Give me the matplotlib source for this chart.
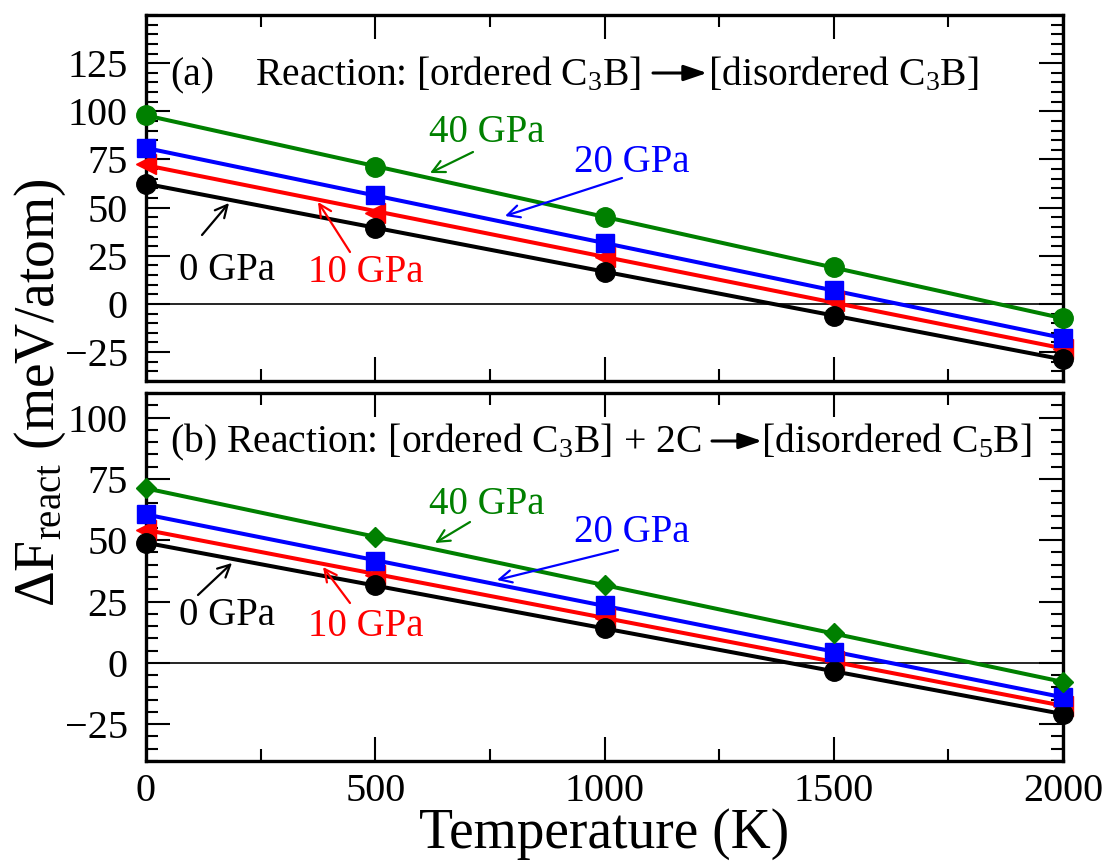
import numpy as np
import matplotlib
matplotlib.use("Agg")
import matplotlib.pyplot as plt
from matplotlib.ticker import MultipleLocator
from matplotlib.patches import FancyArrowPatch

plt.rcParams['font.family'] = ['Liberation Serif', 'DejaVu Serif']
plt.rcParams['mathtext.fontset'] = 'custom'
plt.rcParams['mathtext.rm'] = 'Liberation Serif'
plt.rcParams['mathtext.it'] = 'Liberation Serif:italic'

# ---- data ----
temps = [0, 500, 1000, 1500, 2000]
pressures = ['0 GPa', '10 GPa', '20 GPa', '40 GPa']

a_0gpa = [62.4, 39.6, 16.7, -6.0, -28.8]
a_10gpa = [72.4, 47.4, 24.5, 1.5, -23.5]
a_20gpa = [81.0, 56.4, 31.4, 7.0, -17.6]
a_40gpa = [98.3, 71.0, 45.2, 19.0, -7.4]

b_0gpa = [48.8, 31.6, 14.2, -3.4, -21.0]
b_10gpa = [54.3, 36.0, 18.3, 0.8, -17.7]
b_20gpa = [60.6, 41.6, 23.5, 4.3, -13.9]
b_40gpa = [71.1, 51.5, 31.6, 12.0, -7.8]

colors = {'0 GPa': 'black', '10 GPa': '#ff0000', '20 GPa': '#0000ff', '40 GPa': '#008000'}

fig = plt.figure(figsize=(11.1, 8.63), dpi=100)
ax1 = fig.add_axes([0.1315, 0.5585, 0.8262, 0.4241])
ax2 = fig.add_axes([0.1315, 0.1182, 0.8262, 0.4264])

def draw(ax, series, markers, sizes):
    t = np.array(temps, dtype=float)
    tl = np.array([0.0, 2000.0])
    # fit lines
    for name in ['10 GPa', '0 GPa', '20 GPa', '40 GPa']:
        y = np.array(series[name])
        p = np.polyfit(t, y, 1)
        ax.plot(tl, np.polyval(p, tl), color=colors[name], lw=2.9, zorder=3,
                solid_capstyle='butt', clip_on=False)
    zo = {'10 GPa': 4, '0 GPa': 5, '20 GPa': 6, '40 GPa': 7}
    for name in ['10 GPa', '0 GPa', '20 GPa', '40 GPa']:
        ax.plot(t, series[name], ls='none', marker=markers[name], ms=sizes[name],
                color=colors[name], mec=colors[name], zorder=zo[name], clip_on=False)
    ax.axhline(0, color='black', lw=1.2, zorder=2)

draw(ax1, {'0 GPa': a_0gpa, '10 GPa': a_10gpa, '20 GPa': a_20gpa, '40 GPa': a_40gpa},
     {'0 GPa': 'o', '10 GPa': '<', '20 GPa': 's', '40 GPa': 'o'},
     {'0 GPa': 14, '10 GPa': 14, '20 GPa': 12.5, '40 GPa': 14})
draw(ax2, {'0 GPa': b_0gpa, '10 GPa': b_10gpa, '20 GPa': b_20gpa, '40 GPa': b_40gpa},
     {'0 GPa': 'o', '10 GPa': '<', '20 GPa': 's', '40 GPa': 'D'},
     {'0 GPa': 14, '10 GPa': 14, '20 GPa': 12.5, '40 GPa': 10.5})

for ax, ylim, yt in [(ax1, (-40, 150), [-25, 0, 25, 50, 75, 100, 125]),
                     (ax2, (-40, 110), [-25, 0, 25, 50, 75, 100])]:
    ax.set_xlim(0, 2000)
    ax.set_ylim(*ylim)
    ax.set_yticks(yt)
    ax.set_xticks([0, 500, 1000, 1500, 2000])
    ax.xaxis.set_minor_locator(MultipleLocator(250))
    ax.yaxis.set_minor_locator(MultipleLocator(5))
    ax.tick_params(which='both', direction='in', top=True, right=True, width=1.5)
    ax.tick_params(which='major', length=17)
    ax.tick_params(which='minor', length=8.5)
    ax.tick_params(axis='y', which='major', labelsize=29, pad=13)
    ax.tick_params(axis='x', which='major', labelsize=29, pad=9)
    for s in ax.spines.values():
        s.set_linewidth(2.4)

ax1.tick_params(axis='x', labelbottom=False)
ax2.set_xlabel('Temperature (K)', fontsize=40, labelpad=-2)

fig.text(0.036, 0.545, 'ΔF$_{\\mathrm{react}}$ (meV/atom)', rotation=90, fontsize=40,
         ha='center', va='center')

def px(x, y):
    return (x / 1110.0, 1 - y / 863.0)

fs = 28.5
def reaction_arrow(x0, x1, y):
    fig.add_artist(FancyArrowPatch(px(x0, y), px(x1, y), transform=fig.transFigure,
                                   arrowstyle='-|>,head_length=0.5,head_width=0.17',
                                   mutation_scale=28, lw=2.2, color='black',
                                   shrinkA=0, shrinkB=0))

# panel (a) title
fig.text(*px(170, 85), '(a)', fontsize=fs, ha='left', va='baseline')
fig.text(*px(255, 85), 'Reaction: [ordered C$_3$B]', fontsize=fs, ha='left', va='baseline')
reaction_arrow(653, 707, 73)
fig.text(*px(979, 85), '[disordered C$_3$B]', fontsize=fs, ha='right', va='baseline')
# panel (b) title
fig.text(*px(170, 452), '(b) Reaction: [ordered C$_3$B] + 2C', fontsize=fs, ha='left',
         va='baseline')
reaction_arrow(712, 762, 441)
fig.text(*px(1032, 452), '[disordered C$_5$B]', fontsize=fs, ha='right', va='baseline')

ann_fs = 28
def ann(text, color, txy, tail, head):
    fig.text(*px(*txy), text, fontsize=ann_fs, color=color, ha='center', va='center')
    fig.add_artist(FancyArrowPatch(
        px(*tail), px(*head), transform=fig.transFigure, arrowstyle='->',
        mutation_scale=22, lw=1.6, color=color, shrinkA=0, shrinkB=0))

# top panel annotations
ann('40 GPa', colors['40 GPa'], (487, 133), (473, 152), (430, 173))
ann('20 GPa', colors['20 GPa'], (632, 162), (622, 178), (505, 216))
ann('0 GPa', 'black', (227, 270), (202, 235), (229, 203))
ann('10 GPa', colors['10 GPa'], (366, 272), (350, 252), (318, 202))
# bottom panel annotations
ann('40 GPa', colors['40 GPa'], (487, 505), (470, 522), (435, 543))
ann('20 GPa', colors['20 GPa'], (632, 532), (618, 550), (497, 580))
ann('0 GPa', 'black', (227, 615), (198, 595), (232, 563))
ann('10 GPa', colors['10 GPa'], (366, 627), (350, 603), (323, 567))

fig.savefig('out.png', dpi=100)
